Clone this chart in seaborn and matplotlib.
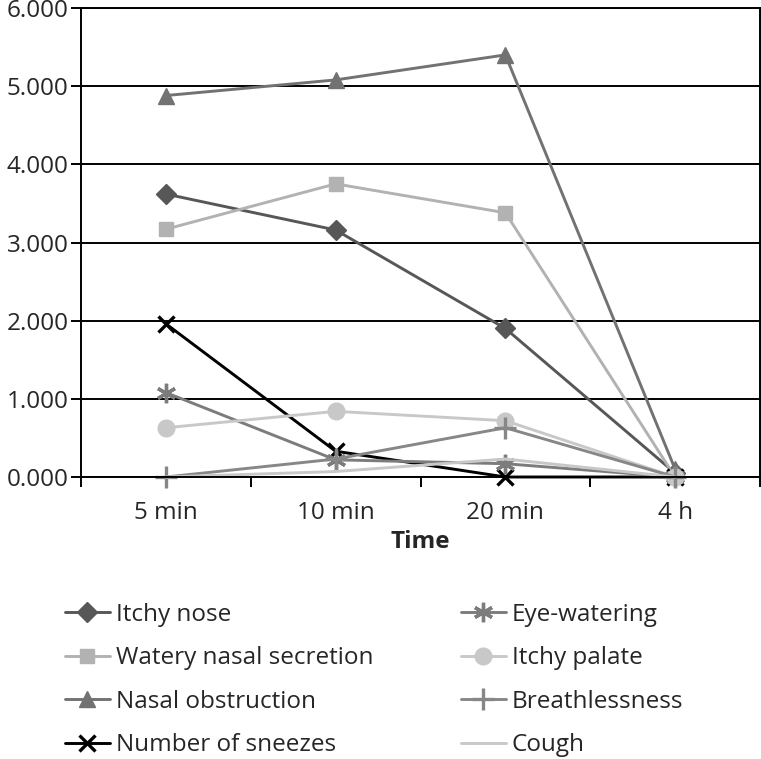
import pandas as pd
import numpy as np
import matplotlib
matplotlib.use("Agg")
import matplotlib.pyplot as plt
import seaborn as sns
from matplotlib.ticker import FixedLocator, FormatStrFormatter

# data
times = ["5 min", "10 min", "20 min", "4 h"]
itchy_nose = [3.62, 3.16, 1.90, 0.05]
watery_secretion = [3.17, 3.75, 3.38, 0.00]
nasal_obstruction = [4.88, 5.08, 5.40, 0.10]
sneezes = [1.96, 0.33, 0.00, 0.00]
eye_watering = [1.08, 0.22, 0.17, 0.00]
itchy_palate = [0.63, 0.84, 0.72, 0.00]
breathlessness = [0.00, 0.23, 0.63, 0.00]
cough = [0.00, 0.07, 0.23, 0.00]

series = [
    ("Itchy nose", itchy_nose, "#575757", "D", 10),
    ("Watery nasal secretion", watery_secretion, "#b2b2b2", "s", 10),
    ("Nasal obstruction", nasal_obstruction, "#727272", "^", 12),
    ("Number of sneezes", sneezes, "#000000", "x", 11),
    ("Eye-watering", eye_watering, "#7c7c7c", (6, 2, 0), 14),
    ("Itchy palate", itchy_palate, "#c8c8c8", "o", 12),
    ("Breathlessness", breathlessness, "#878787", "+", 16),
    ("Cough", cough, "#c8c8c8", None, 0),
]

rows = []
for name, vals, *_ in series:
    for t, v in zip(times, vals):
        rows.append({"Time": t, "Score": v, "Symptom": name})
df = pd.DataFrame(rows)

sns.set_style("white")
plt.rcParams["font.family"] = ["Open Sans", "DejaVu Sans"]
fs = 17.5

fig = plt.figure(figsize=(7.61, 7.59), dpi=100)
ax = fig.add_axes([81 / 761, 1 - 477 / 759, 679 / 761, 469 / 759])

for name, vals, color, marker, ms in series:
    sub = df[df["Symptom"] == name]
    kw = dict(marker=marker, markersize=ms, markeredgecolor=color,
              markeredgewidth=2.4 if marker in ("x", "+", (6, 2, 0)) else 1)
    if marker is None:
        kw = {}
    sns.lineplot(data=sub, x="Time", y="Score", ax=ax, color=color,
                 linewidth=2.1, label=name, clip_on=False, **kw)

ax.set_xlim(-0.5, 3.5)
ax.set_ylim(0, 6)
ax.set_yticks(np.arange(0, 7, 1))
ax.yaxis.set_major_formatter(FormatStrFormatter("%.3f"))
ax.grid(axis="y", color="black", linewidth=1.4)
ax.grid(axis="x", visible=False)
ax.set_axisbelow(True)
for s in ax.spines.values():
    s.set_color("black")
    s.set_linewidth(1.4)

ax.set_xticks(range(len(times)))
ax.set_xticklabels(times)
ax.xaxis.set_minor_locator(FixedLocator([-0.5, 0.5, 1.5, 2.5, 3.5]))
ax.tick_params(axis="x", which="major", length=0, labelsize=fs, pad=17)
ax.tick_params(axis="x", which="minor", length=7, width=1.4, color="black",
               direction="out", bottom=True)
ax.tick_params(axis="y", length=7, width=1.4, color="black", left=True,
               labelsize=fs, pad=2)
ax.set_xlabel("Time", fontsize=fs, fontweight="bold", labelpad=4)
ax.set_ylabel("")

handles, labels = ax.get_legend_handles_labels()
ax.get_legend().remove()
fig.legend(handles, labels, loc="upper left", bbox_to_anchor=(55 / 761, 1 - 593 / 759),
           ncol=2, frameon=False, fontsize=fs, handlelength=1.85,
           handletextpad=0.25, columnspacing=3.6, labelspacing=0.8,
           borderaxespad=0)

fig.savefig("out.png", dpi=100)
